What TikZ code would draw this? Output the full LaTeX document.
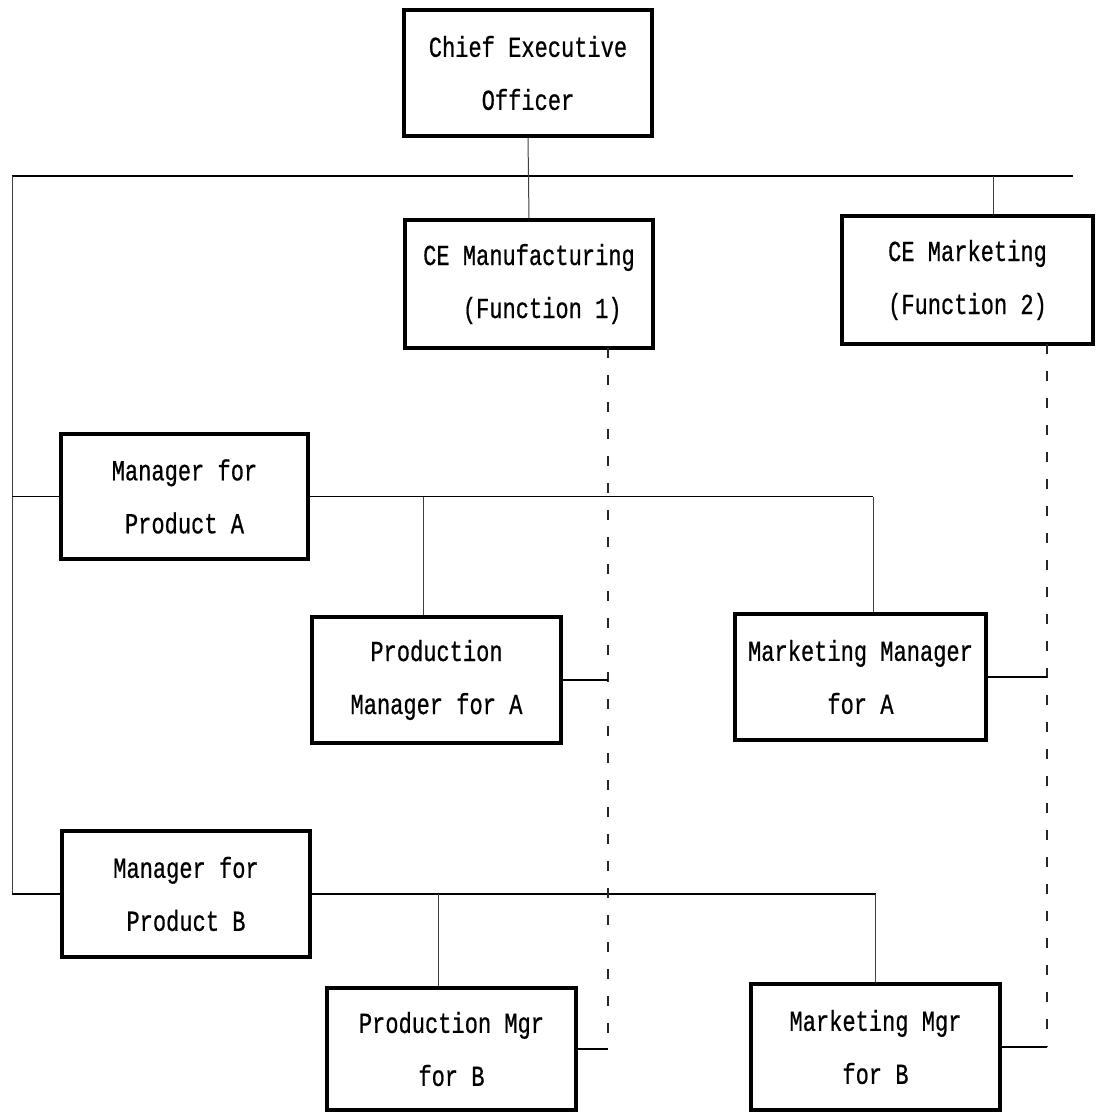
\documentclass[tikz,border=0pt]{standalone}
\usepackage{fontspec}
\newfontfamily\dotfont[FakeStretch=0.76,FakeBold=0.6]{Liberation Mono}
\begin{document}
\begin{tikzpicture}[x=1pt,y=-1pt,
  box/.style={draw=black, line width=3.5pt, rectangle, inner sep=0pt, align=center,
    font=\dotfont\fontsize{29}{53}\selectfont},
  hline/.style={draw=black, line width=1.8pt},
  vline/.style={draw=black!75, line width=1pt},
  fline/.style={draw=black!85, line width=1.4pt, dash pattern=on 10pt off 17pt}]
\useasboundingbox (0,0) rectangle (1101,1113);
% boxes
\node[box, minimum width=248pt, minimum height=126pt] (ceo) at (528,73) {Chief Executive\\Officer};
\node[box, minimum width=248pt, minimum height=128pt] (mfg) at (529,284) {CE Manufacturing\\\ \ (Function 1)};
\node[box, minimum width=251pt, minimum height=128pt] (mkt) at (967.5,280) {CE Marketing\\(Function 2)};
\node[box, minimum width=247pt, minimum height=125pt] (mA) at (184.5,496.5) {Manager for\\Product A};
\node[box, minimum width=249pt, minimum height=126pt] (pA) at (436.5,680) {Production\\Manager for A};
\node[box, minimum width=251pt, minimum height=126pt] (kA) at (860.5,677) {Marketing Manager\\for A};
\node[box, minimum width=248pt, minimum height=126pt] (mB) at (186,894) {Manager for\\Product B};
\node[box, minimum width=249pt, minimum height=122pt] (pB) at (451.5,1049) {Production Mgr\\for B};
\node[box, minimum width=249pt, minimum height=126pt] (kB) at (875.5,1047) {Marketing Mgr\\for B};
% coordinates
\coordinate (barL) at (12,176);
\coordinate (barR) at (1073,176);
\coordinate (mktTop) at (993,176);
\coordinate (leftA) at (12,496.5);
\coordinate (leftB) at (12,894);
\coordinate (aEnd) at (873,496.5);
\coordinate (aDrop) at (423,496.5);
\coordinate (bEnd) at (875.5,894);
\coordinate (bDrop) at (438,894);
\coordinate (mfgDash) at (608,348);
\coordinate (mktDash) at (1047,344);
\coordinate (pAj) at (608,680);
\coordinate (pBj) at (608,1049);
\coordinate (kAj) at (1047,677);
\coordinate (kBj) at (1047,1047);
% top bar
\draw[hline] (barL) -- (barR);
\draw[vline] (ceo.south) -- (mfg.north);
\draw[vline] (mktTop) -- (mktTop |- mkt.north);
\draw[vline] (barL) -- (leftB);
\draw[hline] (leftA) -- (mA.west);
\draw[hline] (leftB) -- (mB.west);
% product A
\draw[hline] (mA.east) -- (aEnd);
\draw[vline] (aEnd) -- (aEnd |- kA.north);
\draw[vline] (aDrop) -- (aDrop |- pA.north);
% product B
\draw[hline] (mB.east) -- (bEnd);
\draw[vline] (bEnd) -- (kB.north);
\draw[vline] (bDrop) -- (bDrop |- pB.north);
% functional dashed lines
\draw[fline] (mfgDash) -- (pBj);
\draw[fline] (mktDash) -- (kBj);
\draw[hline] (pA.east) -- (pAj);
\draw[hline] (pB.east) -- (pBj);
\draw[hline] (kA.east) -- (kAj);
\draw[hline] (kB.east) -- (kBj);
\end{tikzpicture}
\end{document}
